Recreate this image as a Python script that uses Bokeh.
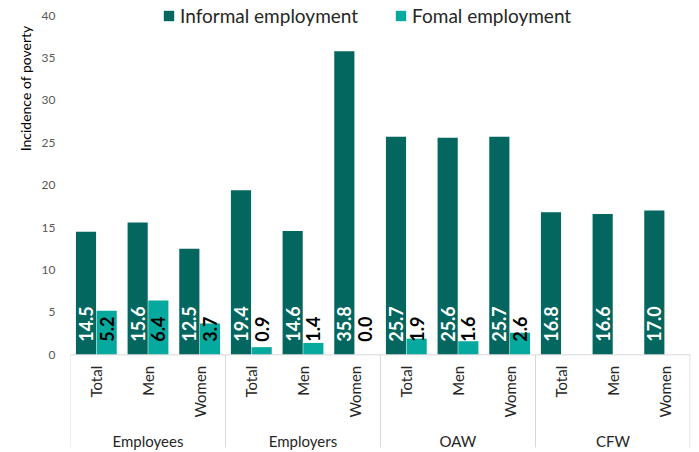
import math
from bokeh.plotting import figure
from bokeh.models import FactorRange, ColumnDataSource, Legend, LegendItem, Span, Title
from bokeh.transform import dodge
from bokeh.core.properties import value
from bokeh.embed import file_html
from bokeh.resources import INLINE

groups = ["Employees", "Employers", "OAW", "CFW"]
subs = ["Total", "Men", "Women"]
informal = [14.5, 15.6, 12.5, 19.4, 14.6, 35.8, 25.7, 25.6, 25.7, 16.8, 16.6, 17.0]
formal = [5.2, 6.4, 3.7, 0.9, 1.4, 0.0, 1.9, 1.6, 2.6, None, None, None]
y_ticks = [0, 5, 10, 15, 20, 25, 30, 35, 40]

FONT = "Lato"
C_INF = "#03665f"
C_FOR = "#05a99e"
# layout: frame spans whole height; room above 40 for legend, below 0 for category labels
Y_MIN, Y_MAX = -11.52, 41.77
SEP_BOTTOM = -10.93

factors = [(g, s) for g in groups for s in subs]
x_range = FactorRange(*factors, range_padding=0, group_padding=0, factor_padding=0)

src_inf = ColumnDataSource(dict(x=factors, y=informal, lab=["%.1f" % v for v in informal]))
fx = [f for f, v in zip(factors, formal) if v is not None]
fv = [v for v in formal if v is not None]
src_for = ColumnDataSource(dict(x=fx, y=fv, lab=["%.1f" % v for v in fv]))

p = figure(x_range=x_range, y_range=(Y_MIN, Y_MAX), width=691, height=452,
           output_backend="svg", toolbar_location=None,
           min_border_left=70, min_border_right=1, min_border_top=0, min_border_bottom=0)
p.outline_line_color = None
p.xgrid.grid_line_color = None
p.ygrid.grid_line_color = None
p.xaxis.visible = False

r1 = p.vbar(x=dodge("x", -0.2, range=x_range), top="y", width=0.39, source=src_inf,
            fill_color=C_INF, line_color=None)
r2 = p.vbar(x=dodge("x", 0.2, range=x_range), top="y", width=0.39, source=src_for,
            fill_color=C_FOR, line_color=None)

p.text(x=dodge("x", -0.2, range=x_range), y=0, text="lab", source=src_inf, angle=math.pi / 2,
       text_align="left", text_baseline="middle", y_offset=-13,
       text_font=value(FONT), text_font_style="bold", text_font_size="18px", text_color="white")
p.text(x=dodge("x", 0.2, range=x_range), y=0, text="lab", source=src_for, angle=math.pi / 2,
       text_align="left", text_baseline="middle", y_offset=-13,
       text_font=value(FONT), text_font_style="bold", text_font_size="18px", text_color="black")

# category axis drawn in data space below zero
p.add_layout(Span(location=0, dimension="width", line_color="#d9d9d9", line_width=1))
p.text(x=factors, y=[0] * len(factors), text=[s for g, s in factors], angle=math.pi / 2,
       text_align="right", text_baseline="middle", y_offset=11,
       text_font=value(FONT), text_font_size="15px", text_color="#262626")
p.text(x=groups, y=[0] * len(groups), text=groups, text_align="center", text_baseline="middle",
       y_offset=86, text_font=value(FONT), text_font_size="15px", text_color="#262626")
sep_left = [(g, subs[0]) for g in groups]
sep_right = [(groups[-1], subs[-1])]
p.segment(x0=dodge("x", -0.5, range=x_range), x1=dodge("x", -0.5, range=x_range), y0=0, y1=SEP_BOTTOM,
          source=ColumnDataSource(dict(x=sep_left)), line_color="#d9d9d9", line_width=1)
p.segment(x0=dodge("x", 0.49, range=x_range), x1=dodge("x", 0.49, range=x_range), y0=0, y1=SEP_BOTTOM,
          source=ColumnDataSource(dict(x=sep_right)), line_color="#d9d9d9", line_width=1)

# y axis
p.yaxis.ticker = y_ticks
p.yaxis.axis_line_color = None
p.yaxis.major_tick_line_color = None
p.yaxis.minor_tick_line_color = None
p.yaxis.major_label_text_font = FONT
p.yaxis.major_label_text_font_size = "12px"
p.yaxis.major_label_text_color = "#595959"
p.yaxis.major_label_standoff = 9

ytitle = Title(text="Incidence of poverty", align="right", offset=25, standoff=10,
               text_font=FONT, text_font_style="normal", text_font_size="14px",
               text_color="#000000")
p.add_layout(ytitle, "left")

legend = Legend(items=[LegendItem(label="Informal employment", renderers=[r1]),
                       LegendItem(label="Fomal employment", renderers=[r2])],
                orientation="horizontal", location=(92, 425),
                background_fill_alpha=0, border_line_color=None,
                label_text_font=FONT, label_text_font_size="19px", label_text_color="#262626",
                glyph_width=13, glyph_height=13, spacing=36, margin=0, padding=2)
p.add_layout(legend, "center")

open("out.html", "w").write(file_html(p, INLINE))
